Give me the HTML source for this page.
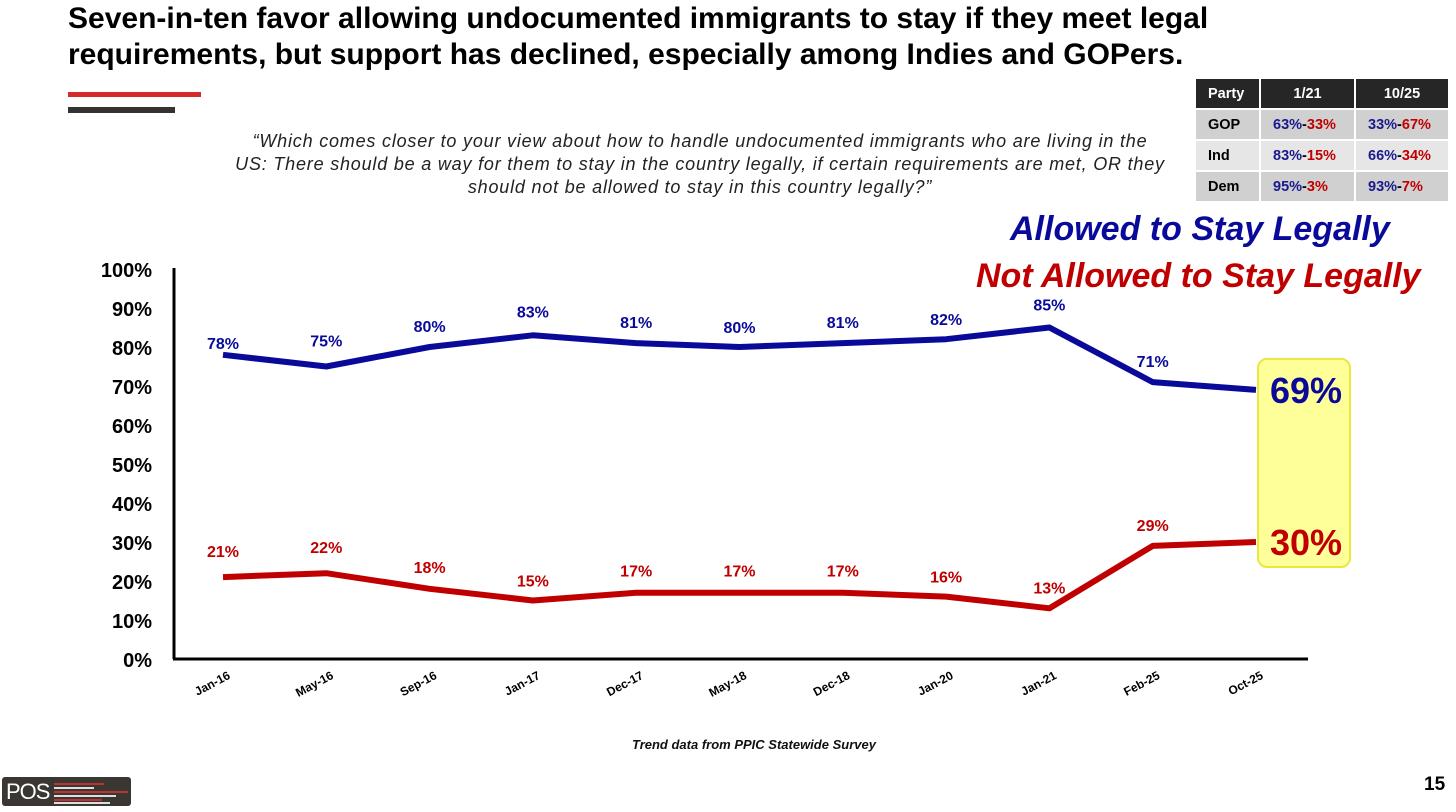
<!DOCTYPE html>
<html><head><meta charset="utf-8"><style>
body{margin:0;width:1456px;height:812px;background:#fff;overflow:hidden;position:relative;font-family:"Liberation Sans",sans-serif}
.abs{position:absolute}
.title{left:68px;top:1px;font-size:30px;font-weight:bold;line-height:36px;color:#000;white-space:nowrap}
.q{left:200px;top:130px;width:1000px;text-align:center;font-style:italic;font-size:18px;line-height:23px;color:#222;letter-spacing:0.8px}
table{border-collapse:separate;border-spacing:2px;font-weight:bold;font-size:14.5px;font-family:"Liberation Sans",sans-serif}
td{height:29px;padding:0 0 0 12px}
.b{color:#1a1a8c}.r{color:#c00000}
.leg{font-size:34px;font-style:italic;font-weight:bold;white-space:nowrap}
</style></head><body>
<div class="abs title">Seven-in-ten favor allowing undocumented immigrants to stay if they meet legal<br>requirements, but support has declined, especially among Indies and GOPers.</div>
<div class="abs" style="left:68px;top:92px;width:133px;height:5px;background:#d32b2b"></div>
<div class="abs" style="left:68px;top:107px;width:107px;height:6px;background:#333"></div>
<div class="abs q">“Which comes closer to your view about how to handle undocumented immigrants who are living in the<br>US: There should be a way for them to stay in the country legally, if certain requirements are met, OR they<br>should not be allowed to stay in this country legally?”</div>
<table class="abs" style="left:1194px;top:77px">
<tr style="background:#262626;color:#fff;height:22px"><td style="width:51px;height:22px">Party</td><td style="width:93px;text-align:center;padding:0">1/21</td><td style="width:92px;text-align:center;padding:0">10/25</td></tr>
<tr style="background:#d0d0d0"><td>GOP</td><td><span class="b">63%</span>-<span class="r">33%</span></td><td><span class="b">33%</span>-<span class="r">67%</span></td></tr>
<tr style="background:#e6e6e6"><td>Ind</td><td><span class="b">83%</span>-<span class="r">15%</span></td><td><span class="b">66%</span>-<span class="r">34%</span></td></tr>
<tr style="background:#d0d0d0"><td>Dem</td><td><span class="b">95%</span>-<span class="r">3%</span></td><td><span class="b">93%</span>-<span class="r">7%</span></td></tr>
</table>
<div class="abs leg" style="left:1010px;top:210px;color:#0a0a9a">Allowed to Stay Legally</div>
<div class="abs leg" style="left:976px;top:257px;color:#c00000">Not Allowed to Stay Legally</div>
<svg class="abs" style="left:0;top:0" width="1456" height="812" id="chart"></svg>
<div class="abs" style="left:632px;top:737px;font-size:13px;font-weight:bold;font-style:italic;color:#111">Trend data from PPIC Statewide Survey</div>
<div class="abs" style="left:1424px;top:774px;font-size:19px;font-weight:bold">15</div>
<div class="abs" style="left:2px;top:777px;width:129px;height:29px;background:#3a3632;border-radius:3px">
<span style="position:absolute;left:4px;top:2px;color:#fff;font-size:22px;letter-spacing:-1px">POS</span>
<div style="position:absolute;left:52px;top:6px;width:50px;height:2px;background:#b33"></div>
<div style="position:absolute;left:52px;top:10px;width:40px;height:2px;background:#ddd"></div>
<div style="position:absolute;left:52px;top:14px;width:74px;height:2px;background:#b33"></div>
<div style="position:absolute;left:52px;top:18px;width:62px;height:2px;background:#ddd"></div>
<div style="position:absolute;left:52px;top:22px;width:48px;height:2px;background:#b33"></div>
<div style="position:absolute;left:52px;top:25px;width:56px;height:2px;background:#ddd"></div>
</div>
<script>
const categories=["Jan-16","May-16","Sep-16","Jan-17","Dec-17","May-18","Dec-18","Jan-20","Jan-21","Feb-25","Oct-25"];
const allowed=[78,75,80,83,81,80,81,82,85,71,69];
const notAllowed=[21,22,18,15,17,17,17,16,13,29,30];
const yTicks=[0,10,20,30,40,50,60,70,80,90,100];
const NS="http://www.w3.org/2000/svg";
const svg=document.getElementById('chart');
const x=i=>223+i*103.3;
const y=v=>659-v*3.9;
function mk(t,a){const e=document.createElementNS(NS,t);for(const k in a)e.setAttribute(k,a[k]);svg.appendChild(e);return e;}
let e=mk('line',{x1:174,y1:268,x2:174,y2:659,stroke:'#000','stroke-width':3});

e=mk('line',{x1:173,y1:659,x2:1308,y2:659,stroke:'#000','stroke-width':3});

yTicks.forEach(v=>{const t=mk('text',{x:152,y:y(v)+8,'text-anchor':'end','font-size':20,'font-weight':'bold','font-family':'Liberation Sans'});t.textContent=v+'%';
});
categories.forEach((c,i)=>{const t=mk('text',{x:x(i)+8,y:678,'text-anchor':'end','font-size':12,'font-weight':'bold','font-family':'Liberation Sans',transform:`rotate(-28 ${x(i)+8} 678)`});t.textContent=c;
});
const last=categories.length-1;
e=mk('rect',{x:x(last)+2,y:y(Math.max(allowed[last],notAllowed[last]))-31,width:92,height:(y(notAllowed[last])-y(allowed[last]))+56,rx:9,fill:'#ffff99',stroke:'#e8e840','stroke-width':2});

function series(vals,col,name,offs){
 e=mk('polyline',{points:vals.map((v,i)=>x(i)+','+y(v)).join(' '),fill:'none',stroke:col,'stroke-width':6,'stroke-linejoin':'round'});
 
 vals.forEach((v,i)=>{
  if(i===last){const t=mk('text',{x:x(i)+50,y:y(v)+13,'text-anchor':'middle','font-size':36,'font-weight':'bold',fill:col,'font-family':'Liberation Sans'});t.textContent=v+'%';
   return;}
  const t=mk('text',{x:x(i),y:y(v)+offs[i],'text-anchor':'middle','font-size':16,'font-weight':'bold',fill:col,'font-family':'Liberation Sans'});t.textContent=v+'%';
  });
}
series(allowed,'#0a0a9a','allowed',[-6,-20,-15,-18,-15,-14,-15,-14,-17,-15,0]);
series(notAllowed,'#c00000','not-allowed',[-20,-20,-16,-14,-16,-16,-16,-14,-15,-15,0]);
</script>
</body></html>
